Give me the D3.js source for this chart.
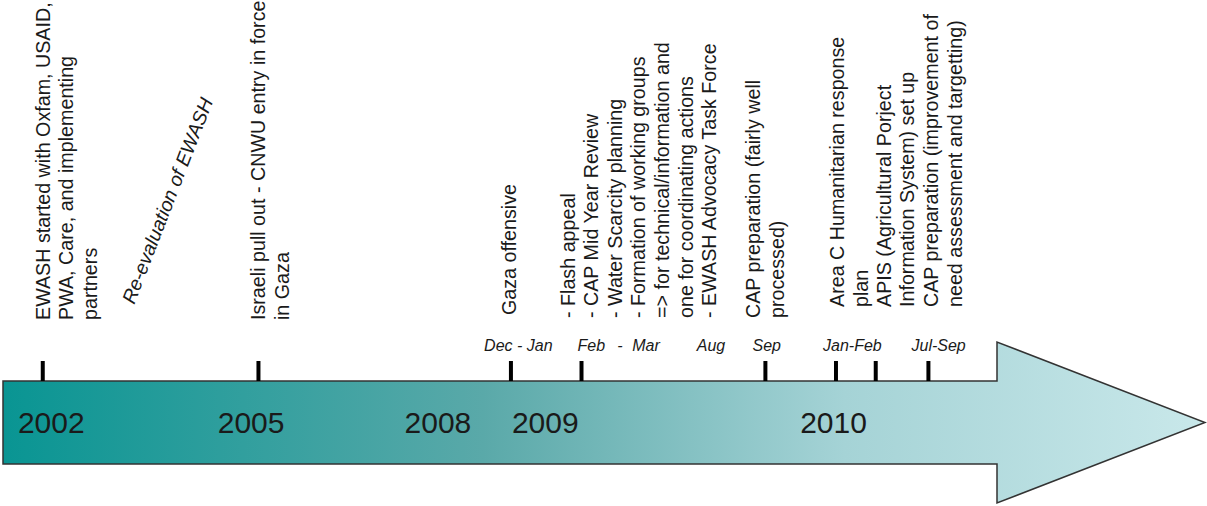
<!DOCTYPE html>
<html>
<head>
<meta charset="utf-8">
<script src="https://cdn.jsdelivr.net/npm/d3@7"></script>
<style>
  body { margin: 0; background: #fff; }
  text { font-family: "Liberation Sans", Arial, sans-serif; fill: #1a1a1a; }
</style>
</head>
<body>
<div id="timeline"></div>
<script>
// positions are in "timeline units" (0 = left end of the arrow body, 100 = start of the head)
var tickPos    = [4.0, 25.7, 51.1, 58.2, 76.7, 83.8, 87.8, 93.1]
var yearLabels = ["2002", "2005", "2008", "2009", "2010"]
var yearPos    = [1.5, 21.6, 40.4, 51.2, 80.2]
var monthLabels = ["Dec - Jan", "Feb", "-", "Mar", "Aug", "Sep", "Jan-Feb", "Jul-Sep"]
var monthPos    = [48.4, 57.8, 61.8, 63.3, 69.8, 75.4, 82.5, 91.4]

var eventPos = [4.7, 26.4, 51.6, 57.5, 76.2, 84.6, 89.3, 94.1]
var eventText = [
  ["EWASH started with Oxfam, USAID,", "PWA, Care, and implementing", "partners"],
  ["Israeli pull out - CNWU entry in force", "in Gaza"],
  ["Gaza offensive"],
  ["- Flash appeal", "- CAP Mid Year Review", "- Water Scarcity planning", "- Formation of working groups",
   "=> for technical/information and", "one for coordinating actions", "- EWASH Advocacy Task Force"],
  ["CAP preparation (fairly well", "processed)"],
  ["Area C Humanitarian response", "plan"],
  ["APIS (Agricultural Porject", "Information System) set up"],
  ["CAP preparation (improvement of", "need assessment and targetting)"]
]
var eventStartY = [320, 320, 315, 318, 318, 307, 307, 307]

var width = 1207, height = 506

var svg = d3.select("#timeline").append("svg")
  .attr("width", width).attr("height", height)

var x = d3.scaleLinear().domain([0, 100]).range([3, 997])

var bodyTop = 381, bodyBottom = 464, headTop = 342, headBottom = 503, tipX = 1205
var midY = (bodyTop + bodyBottom) / 2

// gradient for the arrow
var grad = svg.append("defs").append("linearGradient")
  .attr("id", "arrowGrad")
  .attr("gradientUnits", "userSpaceOnUse")
  .attr("x1", x(0)).attr("x2", tipX).attr("y1", 0).attr("y2", 0)
grad.append("stop").attr("offset", "0%").attr("stop-color", "#099593")
grad.append("stop").attr("offset", "40%").attr("stop-color", "#5aa9a9")
grad.append("stop").attr("offset", "70%").attr("stop-color", "#a5d3d6")
grad.append("stop").attr("offset", "100%").attr("stop-color", "#c9e8ea")

var arrowPts = [
  [x(0), bodyTop], [x(100), bodyTop], [x(100), headTop], [tipX, midY],
  [x(100), headBottom], [x(100), bodyBottom], [x(0), bodyBottom]
]
svg.append("path")
  .attr("d", d3.line()(arrowPts) + "Z")
  .attr("fill", "url(#arrowGrad)")
  .attr("stroke", "#333")
  .attr("stroke-width", 1.5)

// ticks
svg.selectAll(".tick").data(tickPos).enter()
  .append("line")
  .attr("class", "tick")
  .attr("x1", function(d) { return x(d) }).attr("x2", function(d) { return x(d) })
  .attr("y1", 361).attr("y2", bodyTop)
  .attr("stroke", "#000").attr("stroke-width", 4)

// year labels
svg.selectAll(".year").data(yearLabels).enter()
  .append("text")
  .attr("class", "year")
  .attr("x", function(d, i) { return x(yearPos[i]) })
  .attr("y", 433)
  .style("font-size", "30px")
  .text(function(d) { return d })

// month labels
svg.selectAll(".month").data(monthLabels).enter()
  .append("text")
  .attr("class", "month")
  .attr("x", function(d, i) { return x(monthPos[i]) })
  .attr("y", 351)
  .style("font-size", "16px")
  .style("font-style", "italic")
  .text(function(d) { return d })

// event texts, rotated
var ev = svg.selectAll(".event").data(eventText).enter()
  .append("g")
  .attr("class", "event")
  .attr("transform", function(d, i) { return "translate(" + x(eventPos[i]) + "," + eventStartY[i] + ") rotate(-90)" })

ev.append("text")
  .style("font-size", "19.7px")
  .selectAll("tspan").data(function(d) { return d }).enter()
  .append("tspan")
  .attr("x", 0)
  .attr("y", function(d, i) { return i * 23.6 })
  .text(function(d) { return d })

// the slanted italic note
svg.append("text")
  .attr("transform", "translate(" + x(13.2) + ",305) rotate(-68.8)")
  .style("font-size", "19.5px")
  .style("font-style", "italic")
  .text("Re-evaluation of EWASH")
</script>
</body>
</html>
